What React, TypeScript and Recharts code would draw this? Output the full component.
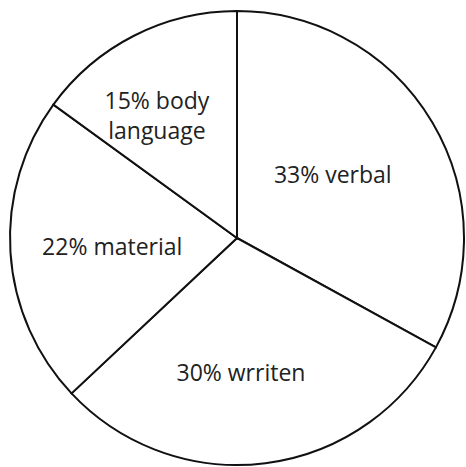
import { PieChart, Pie, Cell } from "recharts";

const categories = ["verbal", "wrriten", "material", "body language"];
const shares = [33, 30, 22, 15];

// label placement per slice: distance from center (px) and a small angle nudge (deg, clockwise)
const labelRadius = [115, 134, 125, 147];
const labelNudge = [-3, 5.5, 0, -6];

const data = categories.map((name, i) => ({ name, value: shares[i] }));

const RADIAN = Math.PI / 180;

const renderLabel = (props: any) => {
  const { cx, cy, midAngle, index } = props;
  const r = labelRadius[index];
  const a = midAngle - labelNudge[index];
  const x = cx + r * Math.cos(-a * RADIAN);
  const y = cy + r * Math.sin(-a * RADIAN);
  const entry = data[index];
  const words = entry.name.split(" ");
  // "body language" goes on two lines
  const lines =
    words.length > 1
      ? [`${entry.value}% ${words[0]}`, words.slice(1).join(" ")]
      : [`${entry.value}% ${entry.name}`];
  const lineH = 30;
  const startY = y - ((lines.length - 1) * lineH) / 2;
  return (
    <text
      x={x}
      y={startY}
      textAnchor="middle"
      dominantBaseline="central"
      fill="#222"
      fontSize={23}
      fontFamily="'Open Sans', sans-serif"
    >
      {lines.map((l, i) => (
        <tspan key={i} x={x} y={startY + i * lineH} dominantBaseline="central">
          {l}
        </tspan>
      ))}
    </text>
  );
};

const App = () => {
  return (
    <div style={{ position: "absolute", left: 0, top: 0, background: "#fff" }}>
      <PieChart
        width={466}
        height={467}
        margin={{ top: 0, right: 0, bottom: 0, left: 0 }}
      >
        <Pie
          data={data}
          dataKey="value"
          nameKey="name"
          cx={237}
          cy={238}
          outerRadius={227}
          startAngle={90}
          endAngle={-270}
          stroke="#111"
          strokeWidth={2}
          label={renderLabel}
          labelLine={false}
          isAnimationActive={false}
        >
          {data.map((entry, index) => (
            <Cell key={`cell-${index}`} fill="#fff" />
          ))}
        </Pie>
      </PieChart>
    </div>
  );
};

export default App;
